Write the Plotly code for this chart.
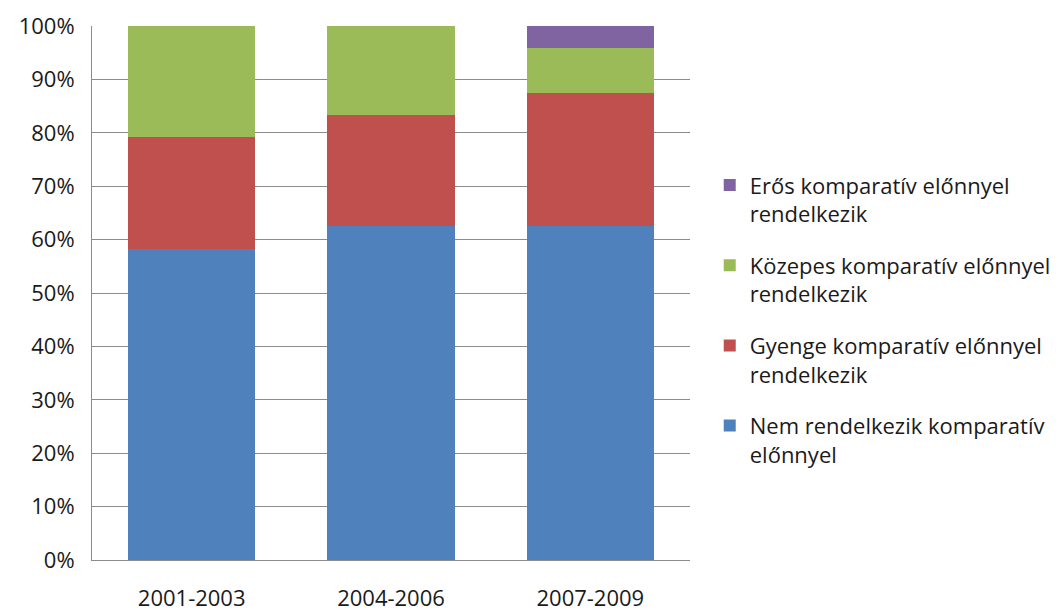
import plotly.graph_objects as go

periods = ["2001-2003", "2004-2006", "2007-2009"]
series_names = [
    "Nem rendelkezik komparatív<br>előnnyel",
    "Gyenge komparatív előnnyel<br>rendelkezik",
    "Közepes komparatív előnnyel<br>rendelkezik",
    "Erős komparatív előnnyel<br>rendelkezik",
]
nem = [58.33, 62.5, 62.5]
gyenge = [20.83, 20.83, 25.0]
kozepes = [20.84, 16.67, 8.33]
eros = [0.0, 0.0, 4.17]
colors = ["#4F81BD", "#C0504D", "#9BBB59", "#8064A2"]

fig = go.Figure()
for i, (name, vals) in enumerate(zip(series_names, [nem, gyenge, kozepes, eros])):
    fig.add_trace(go.Bar(
        x=periods, y=vals, name=name, marker_color=colors[i],
        marker_line_width=0, legendgroup=str(i), legendrank=100 - i,
    ))

font = "'Open Sans', sans-serif"
fig.update_layout(
    barmode="stack",
    bargap=0.36,
    width=1056, height=614,
    margin=dict(l=92, r=366, t=26, b=54, autoexpand=False),
    plot_bgcolor="white", paper_bgcolor="white",
    font=dict(family=font, size=22, color="#1a1a1a"),
    showlegend=True,
    legend=dict(
        traceorder="grouped", x=1.033, xanchor="left", y=0.45, yanchor="middle",
        font=dict(family=font, size=22, color="#1a1a1a"),
        tracegroupgap=20, itemwidth=30, valign="top",
    ),
)
fig.update_yaxes(
    range=[0, 100], dtick=10, ticksuffix="%", showgrid=True, gridcolor="#8c8c8c",
    gridwidth=1, showline=True, linecolor="#8c8c8c", linewidth=1,
    ticks="", ticklabelstandoff=12, zeroline=False, automargin=False,
)
fig.update_xaxes(
    showline=True, linecolor="#8c8c8c", linewidth=1, ticks="",
    ticklabelstandoff=19, automargin=False,
)
fig.write_html("out.html", config={"displayModeBar": False},
               post_script="document.body.style.margin='0';")
